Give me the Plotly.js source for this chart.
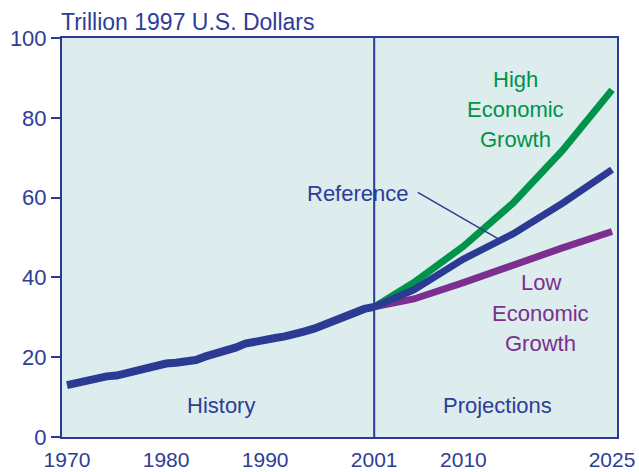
<!DOCTYPE html>
<html>
<head>
<meta charset="utf-8">
<script src="https://cdn.plot.ly/plotly-3.0.1.min.js"></script>
<style>html,body{margin:0;padding:0;background:#fff;}#chart{width:639px;height:472px;}</style>
</head>
<body>
<div id="chart"></div>
<script>
const histYears = [1970,1971,1972,1973,1974,1975,1976,1977,1978,1979,1980,1981,1982,1983,1984,1985,1986,1987,1988,1989,1990,1991,1992,1993,1994,1995,1996,1997,1998,1999,2000,2001];
const history = [13.0,13.5,14.1,15.0,15.2,15.4,16.1,16.7,17.4,18.0,18.4,18.6,18.8,19.3,20.2,20.8,21.6,22.4,23.4,24.0,24.5,24.8,25.2,25.6,26.5,27.2,28.2,29.3,30.0,31.0,32.1,32.6];
const projYears = [2001,2005,2010,2015,2020,2025];
const highGrowth = [32.6,38.7,47.8,58.6,71.8,87.0];
const reference = [32.6,36.9,44.6,50.9,58.6,67.0];
const lowGrowth = [32.6,34.6,38.7,43.2,47.4,51.5];
const xTicks = [1970,1980,1990,2001,2010,2025];
const yTicks = [0,20,40,60,80,100];

const BLUE = '#2B3B94';
const TEXT = '#2E3D98';
const GREEN = '#00934A';
const PURPLE = '#7B2F8F';
const FONT = 'Liberation Sans, Arial, sans-serif';

const traces = [
  {x: projYears, y: highGrowth, mode: 'lines', line: {color: GREEN, width: 7}, name: 'High'},
  {x: projYears, y: lowGrowth, mode: 'lines', line: {color: PURPLE, width: 7}, name: 'Low'},
  {x: projYears, y: reference, mode: 'lines', line: {color: BLUE, width: 7}, name: 'Reference'},
  {x: histYears, y: history, mode: 'lines', line: {color: BLUE, width: 8}, name: 'History'}
];

function ann(text, x, y, color) {
  return {text: text, x: x, y: y, xref: 'x', yref: 'y', showarrow: false,
    xanchor: 'center', yanchor: 'middle', font: {family: FONT, size: 22, color: color}};
}

const layout = {
  width: 639, height: 472,
  margin: {l: 62, r: 22, t: 38, b: 35},
  paper_bgcolor: '#ffffff',
  plot_bgcolor: '#DDECEC',
  showlegend: false,
  hovermode: false,
  font: {family: FONT, size: 22, color: TEXT},
  xaxis: {
    range: [1969.5, 2025.5], tickvals: xTicks, ticktext: xTicks.map(String),
    ticks: '', showgrid: false, zeroline: false,
    showline: true, linecolor: BLUE, linewidth: 2, mirror: true,
    tickfont: {family: FONT, size: 21, color: TEXT}, ticklabelstandoff: 3
  },
  yaxis: {
    range: [0, 100], tickvals: yTicks, ticks: 'outside', ticklen: 9, tickwidth: 2, tickcolor: BLUE,
    showgrid: false, zeroline: false,
    showline: true, linecolor: BLUE, linewidth: 2, mirror: true,
    tickfont: {family: FONT, size: 22, color: TEXT}
  },
  shapes: [
    {type: 'line', xref: 'x', yref: 'y', x0: 2001, x1: 2001, y0: 0, y1: 100, line: {color: BLUE, width: 2}, layer: 'below'},
    {type: 'line', xref: 'x', yref: 'y', x0: 2005.4, y0: 61.3, x1: 2013.7, y1: 49.4, line: {color: BLUE, width: 1.5}}
  ],
  annotations: [
    {text: 'Trillion 1997 U.S. Dollars', xref: 'paper', yref: 'paper', x: 0, y: 1, xanchor: 'left', yanchor: 'bottom',
     showarrow: false, yshift: 1, xshift: -3, font: {family: FONT, size: 23, color: TEXT}},
    ann('History', 1985.5, 8, TEXT),
    ann('Projections', 2013.4, 8, TEXT),
    ann('Reference', 1999.4, 61.1, TEXT),
    ann('High', 2015.3, 89.5, GREEN),
    ann('Economic', 2015.3, 82.0, GREEN),
    ann('Growth', 2015.3, 74.5, GREEN),
    ann('Low', 2017.8, 38.6, PURPLE),
    ann('Economic', 2017.8, 31.0, PURPLE),
    ann('Growth', 2017.8, 23.5, PURPLE)
  ]
};

Plotly.newPlot('chart', traces, layout, {displayModeBar: false, staticPlot: true});
</script>
</body>
</html>
